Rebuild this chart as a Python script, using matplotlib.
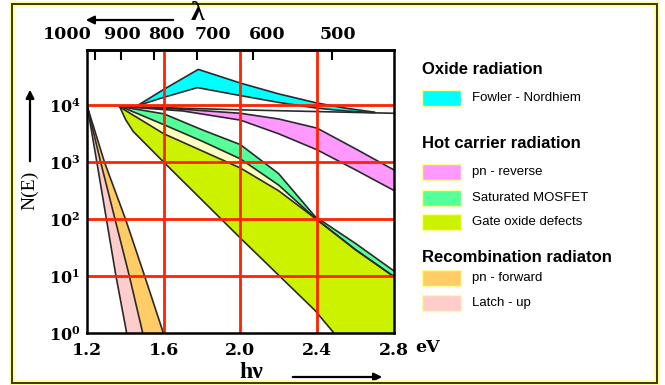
import matplotlib
matplotlib.use("Agg")
import matplotlib.pyplot as plt
import numpy as np
from matplotlib.patches import Rectangle

W, H = 665, 385

# photon energy (eV) and log10 N(E)
fn_up_E = [1.46, 1.6, 1.78, 2.0, 2.2, 2.4, 2.55, 2.7]
fn_up_logN = [3.99, 4.28, 4.63, 4.39, 4.2, 4.04, 3.95, 3.88]
fn_lo_E = [1.46, 1.6, 1.775, 2.0, 2.2, 2.4, 2.55, 2.7]
fn_lo_logN = [3.99, 4.14, 4.31, 4.17, 4.05, 3.95, 3.9, 3.87]

flat_E = [1.37, 2.0, 2.8]
flat_logN = [3.98, 3.92, 3.86]

pnr_up_E = [1.37, 1.7, 2.0, 2.2, 2.4, 2.6, 2.8]
pnr_up_logN = [3.98, 3.93, 3.86, 3.76, 3.6, 3.24, 2.87]
pnr_lo_E = [1.37, 1.7, 2.0, 2.2, 2.4, 2.6, 2.8]
pnr_lo_logN = [3.98, 3.9, 3.74, 3.5, 3.22, 2.87, 2.51]

mos_up_E = [1.37, 1.6, 1.8, 2.0, 2.2, 2.39, 2.6, 2.8]
mos_up_logN = [3.98, 3.85, 3.57, 3.31, 2.8, 2.05, 1.58, 1.1]
mos_lo_E = [1.38, 1.6, 1.8, 2.0, 2.2, 2.39, 2.6, 2.8]
mos_lo_logN = [3.97, 3.66, 3.37, 3.06, 2.6, 2.02, 1.47, 1.0]

gox_up_E = [1.37, 1.6, 1.8, 2.0, 2.2, 2.39, 2.6, 2.8]
gox_up_logN = [3.97, 3.5, 3.2, 2.9, 2.5, 2.02, 1.47, 1.0]
gox_lo_E = [1.37, 1.4, 1.44, 1.6, 2.0, 2.39, 2.49]
gox_lo_logN = [3.97, 3.75, 3.54, 3.0, 1.67, 0.4, 0.0]

rec_logN = [3.98, 3.0, 2.0, 1.0, 0.0]
latch_lo_E = [1.2, 1.25, 1.3, 1.35, 1.406]
latch_hi_E = [1.2, 1.27, 1.345, 1.42, 1.49]
fwd_hi_E = [1.2, 1.29, 1.4, 1.5, 1.598]

grid_E = [1.6, 2.0, 2.4]
grid_N = [10, 100, 1000, 10000]
x_ticks = [1.2, 1.6, 2.0, 2.4, 2.8]
y_ticks = [1, 10, 100, 1000, 10000]
y_labels = [r'$\mathbf{10^{%d}}$' % k for k in range(5)]
lam_ticks = [1000, 900, 800, 700, 600, 500]
lam_label_dx = [-20, 1, 9, 12, 10, 4]  # label shift in points

c_fn = '#00ffff'
c_pnr = '#ff99ff'
c_mos = '#55ff99'
c_gox = '#ccf200'
c_fwd = '#ffcc66'
c_latch = '#ffcccc'
c_gap = '#ffffc0'
edge = '#2a2a2a'

plt.rcParams['mathtext.fontset'] = 'custom'
plt.rcParams['mathtext.bf'] = 'DejaVu Serif:bold'
plt.rcParams['mathtext.rm'] = 'DejaVu Serif'


def N(v):
    return 10 ** np.asarray(v, dtype=float)


def band(ax, xu, yu, xl, yl, color, z=1):
    xs = list(xu) + list(xl)[::-1]
    ys = list(N(yu)) + list(N(yl))[::-1]
    ax.fill(xs, ys, color=color, lw=0, zorder=z)


def px(x, y):
    return (x / W, 1 - y / H)


fig = plt.figure(figsize=(W / 100, H / 100), dpi=100)
ax = fig.add_axes([87.3 / W, 1 - 333.3 / H, (393.5 - 87.3) / W, (333.3 - 50) / H])
ax.set_yscale('log')
ax.set_xlim(1.2, 2.8)
ax.set_ylim(1, 10 ** 4.97)

# bands
band(ax, mos_lo_E, mos_lo_logN, gox_up_E, gox_up_logN, c_gap, 1)
band(ax, gox_up_E + [2.8], gox_up_logN + [0.0],
     gox_lo_E, gox_lo_logN, c_gox, 1.1)
band(ax, mos_up_E, mos_up_logN, mos_lo_E, mos_lo_logN, c_mos, 1.2)
band(ax, pnr_up_E, pnr_up_logN, pnr_lo_E, pnr_lo_logN, c_pnr, 1.2)
band(ax, fn_up_E, fn_up_logN, fn_lo_E, fn_lo_logN, c_fn, 1.2)
band(ax, latch_lo_E, rec_logN, latch_hi_E, rec_logN, c_latch, 1.2)
band(ax, latch_hi_E, rec_logN, fwd_hi_E, rec_logN, c_fwd, 1.2)

for xs, ys in [(fn_up_E, fn_up_logN), (fn_lo_E, fn_lo_logN), (flat_E, flat_logN),
               (pnr_up_E, pnr_up_logN), (pnr_lo_E, pnr_lo_logN),
               (mos_up_E, mos_up_logN), (mos_lo_E, mos_lo_logN),
               (gox_up_E, gox_up_logN), (gox_lo_E, gox_lo_logN),
               (latch_lo_E, rec_logN), (latch_hi_E, rec_logN), (fwd_hi_E, rec_logN)]:
    ax.plot(xs, N(ys), color=edge, lw=1.2, zorder=2)

# red grid on top of everything
for e in grid_E:
    ax.axvline(e, color='#ff2200', lw=2.0, zorder=3)
for n in grid_N:
    ax.axhline(n, color='#ff2200', lw=2.0, zorder=3)

for s in ax.spines.values():
    s.set_linewidth(1.8)
    s.set_color('black')
    s.set_zorder(4)

ax.set_xticks(x_ticks)
ax.set_xticklabels([f'{v:.1f}' for v in x_ticks])
ax.set_yticks(y_ticks)
ax.set_yticklabels(y_labels)
ax.yaxis.set_minor_locator(matplotlib.ticker.NullLocator())
ax.tick_params(axis='both', length=0)
ax.tick_params(axis='x', pad=6)
ax.tick_params(axis='y', pad=5, labelsize=11.5)
for t in ax.get_xticklabels():
    t.set_fontfamily('DejaVu Serif')
    t.set_fontweight('bold')
    t.set_fontsize(12.5)

# wavelength axis on top
sec = ax.secondary_xaxis('top', functions=(lambda e: 1240 / e, lambda l: 1240 / l))
sec.set_xticks(lam_ticks)
sec.tick_params(direction='in', length=7, width=1.5, labeltop=False)
sec.spines['top'].set_linewidth(1.8)
for lam, dx in zip(lam_ticks, lam_label_dx):
    ax.annotate(str(lam), xy=(1240 / lam, 1), xycoords=('data', 'axes fraction'),
                xytext=(dx, 11), textcoords='offset points', ha='center', va='center',
                fontsize=12.5, fontweight='bold', family='DejaVu Serif')

ax.annotate('eV', xy=(1, 0), xycoords='axes fraction', xytext=(16, -10),
            textcoords='offset points', ha='left', va='center',
            fontsize=12.5, fontweight='bold', family='DejaVu Serif')

# axis titles with arrows
fig.text(*px(30, 190), 'N(E)', rotation=90, ha='center', va='center',
         fontsize=14, family='Liberation Serif')
fig.text(*px(197, 14), 'λ', ha='center', va='center', fontsize=20,
         fontweight='bold', family='Liberation Serif')
fig.text(*px(251, 372), 'hν', ha='center', va='center', fontsize=17,
         fontweight='bold', family='Liberation Serif')
arrow = dict(arrowstyle='-|>', color='black', lw=1.6, mutation_scale=12)
fig.add_artist(matplotlib.patches.FancyArrowPatch(px(30, 164), px(30, 87),
               transform=fig.transFigure, **arrow))
fig.add_artist(matplotlib.patches.FancyArrowPatch(px(176, 20), px(83, 20),
               transform=fig.transFigure, **arrow))
fig.add_artist(matplotlib.patches.FancyArrowPatch(px(290, 377), px(385, 377),
               transform=fig.transFigure, **arrow))

# grouped legend
headers = [('Oxide radiation', 69), ('Hot carrier radiation', 144),
           ('Recombination radiaton', 257)]
items = [('Fowler - Nordhiem', c_fn, 98), ('pn - reverse', c_pnr, 172),
         ('Saturated MOSFET', c_mos, 198), ('Gate oxide defects', c_gox, 222),
         ('pn - forward', c_fwd, 278), ('Latch - up', c_latch, 303)]
for txt, y in headers:
    fig.text(*px(422, y), txt, ha='left', va='center', fontsize=12,
             fontweight='bold', family='Liberation Sans')
for txt, col, y in items:
    x0, y0 = px(421.7, y + 7.8)
    fig.add_artist(Rectangle((x0, y0), 39.3 / W, 15.6 / H, transform=fig.transFigure,
                             facecolor=col, edgecolor='#ffff99', lw=1.0))
    fig.text(*px(472, y), txt, ha='left', va='center', fontsize=9.5,
             family='Liberation Sans')

# outer frame
x0, y0 = px(12, 383)
fig.add_artist(Rectangle((x0, y0), 645 / W, 379 / H, transform=fig.transFigure,
                         fill=False, edgecolor='#ffff99', lw=4))
fig.add_artist(Rectangle((x0, y0), 645 / W, 379 / H, transform=fig.transFigure,
                         fill=False, edgecolor='#3a3a10', lw=1.4))

fig.savefig('out.png', dpi=100)
